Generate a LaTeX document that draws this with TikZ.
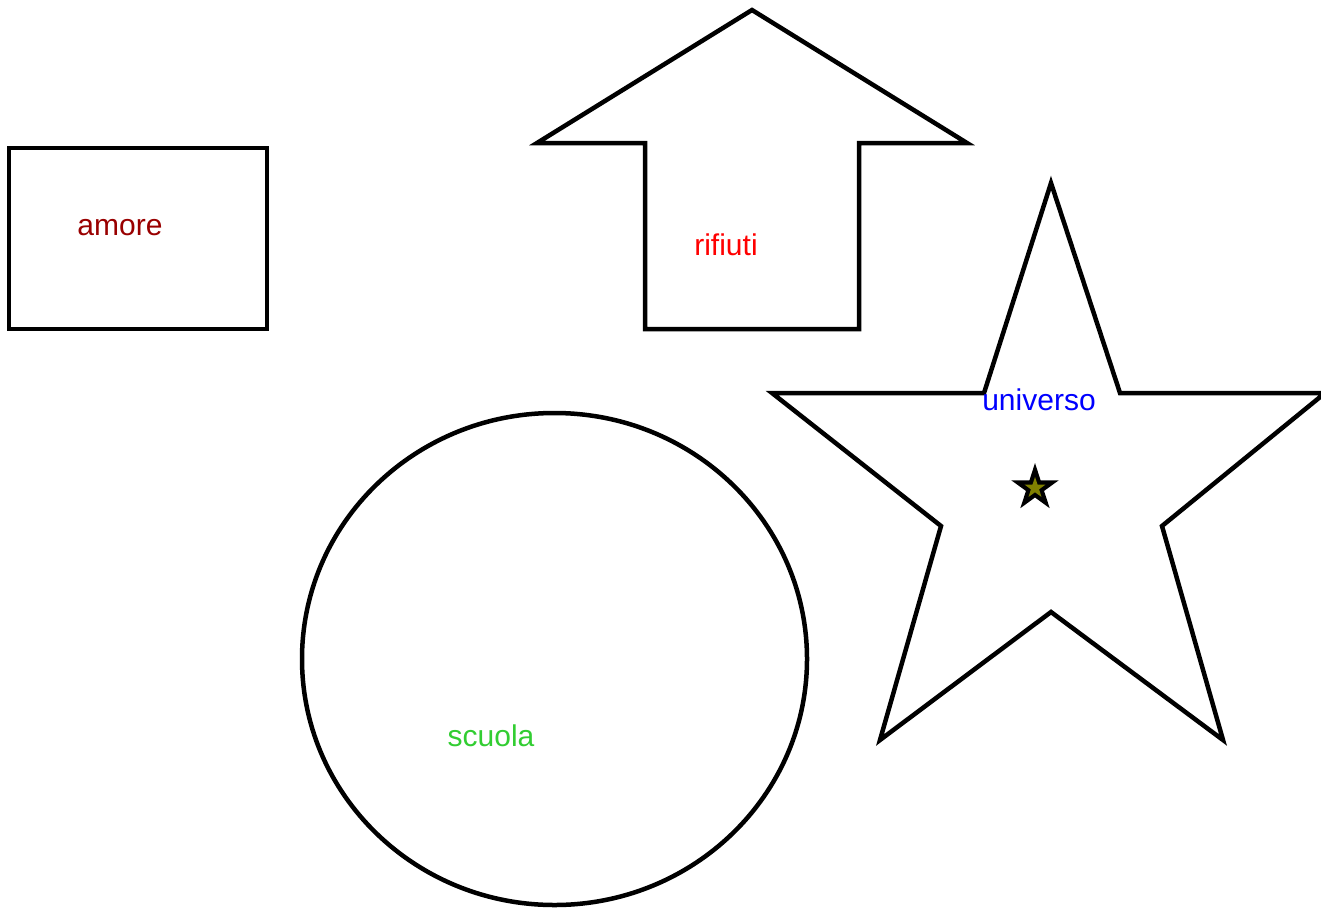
\documentclass[tikz,border=0pt]{standalone}
\usepackage{fontspec}
\setmainfont{Liberation Sans}
\definecolor{amorec}{HTML}{990000}
\definecolor{scuolac}{HTML}{32CD32}
\definecolor{olivec}{HTML}{808000}
\tikzset{
  outl/.style={draw=black, line width=4.5pt, line join=miter},
  lbl/.style={inner sep=0pt, anchor=base, font=\fontsize{30}{34}\selectfont},
}
\begin{document}
\begin{tikzpicture}[x=1pt, y=-1pt]
\useasboundingbox (0,0) rectangle (1321,907);
% rectangle
\draw[outl] (9,148) rectangle (267,329);
\node[lbl, text=amorec] (amore) at (120,235) {amore};
% arrow
\draw[outl] (752,10) -- (967,143) -- (859,143) -- (859,329) -- (645,329) -- (645,143) -- (537,143) -- cycle;
\node[lbl, text=red] (rifiuti) at (726,255) {rifiuti};
% big star
\draw[outl] (1051,183) -- (1120,393) -- (1325,393) -- (1162,526) -- (1223,740) -- (1051,612) -- (880,740) -- (941,526) -- (772,393) -- (984,393) -- cycle;
\node[lbl, text=blue] (universo) at (1039,410) {universo};
% small star
\begin{scope}[shift={(1035,488)}]
\fill[black] (270:25) -- (306:9.5) -- (342:25) -- (18:9.5) -- (54:25) -- (90:9.5) -- (126:25) -- (162:9.5) -- (198:25) -- (234:9.5) -- cycle;
\fill[olivec] (270:11) -- (306:4.3) -- (342:11) -- (18:4.3) -- (54:11) -- (90:4.3) -- (126:11) -- (162:4.3) -- (198:11) -- (234:4.3) -- cycle;
\end{scope}
% circle
\draw[outl] (554.5,659) ellipse [x radius=252.5, y radius=246];
\node[lbl, text=scuolac] (scuola) at (491,746) {scuola};
\end{tikzpicture}
\end{document}
